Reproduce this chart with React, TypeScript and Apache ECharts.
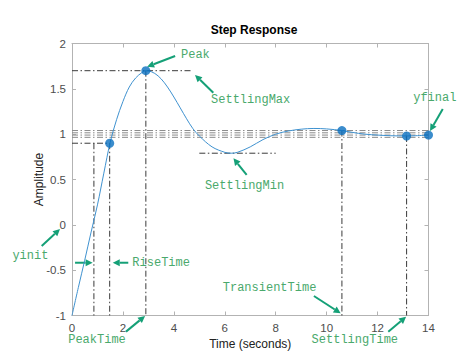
import React, { useEffect, useRef } from "react";
import * as echarts from "echarts";

const timeValues = [0, 0.25, 0.5, 0.75, 1.0, 1.25, 1.5, 1.75, 2.0, 2.25, 2.5, 2.75, 2.9, 3.0, 3.25, 3.5, 3.75, 4.0, 4.25, 4.5, 4.75, 5.0, 5.5, 6.0, 6.25, 6.5, 7.0, 7.5, 8.0, 8.5, 9.0, 9.5, 10.0, 10.6, 11.0, 11.5, 12.0, 12.5, 13.14, 13.5, 14.0];
const amplitudeValues = [-1, -0.69, -0.39, -0.08, 0.22, 0.57, 0.91, 1.16, 1.36, 1.52, 1.62, 1.68, 1.7, 1.698, 1.67, 1.61, 1.52, 1.41, 1.29, 1.17, 1.06, 0.98, 0.86, 0.8, 0.79, 0.8, 0.86, 0.94, 1.0, 1.035, 1.055, 1.063, 1.058, 1.04, 1.02, 1.0, 0.99, 0.983, 0.98, 0.983, 0.99];

const xTicks = { min: 0, max: 14, interval: 2 };
const yTicks = { min: -1, max: 2, interval: 0.5 };

const markerPoints = [
  [1.48, 0.9],
  [2.9, 1.7],
  [10.6, 1.04],
  [13.14, 0.98],
  [14, 0.99],
];

const referenceLines = [
  [[0, 0.9], [1.48, 0.9]],
  [[0.86, 0.9], [0.86, -1]],
  [[1.48, 0.9], [1.48, -1]],
  [[0, 1.7], [4.7, 1.7]],
  [[2.9, 1.7], [2.9, -1]],
  [[5.0, 0.79], [8.0, 0.79]],
  [[10.6, 1.04], [10.6, -1]],
  [[13.14, 0.98], [13.14, -1]],
];

const bandLevels = [1.04, 1.015, 0.99, 0.965];

const annotationLabels = ["Peak", "SettlingMax", "yfinal", "SettlingMin", "yinit", "RiseTime", "PeakTime", "TransientTime", "SettlingTime"];
const annotationLabelAt = [
  [4.28, 1.873],
  [5.46, 1.377],
  [13.4, 1.395],
  [5.22, 0.432],
  [-2.34, -0.34],
  [2.37, -0.418],
  [-0.15, -1.27],
  [5.92, -0.693],
  [9.41, -1.27],
];

const annotationArrows = [
  [[4.05, 1.862], [2.95, 1.744]],
  [[5.55, 1.457], [4.83, 1.653]],
  [[14.56, 1.278], [14.06, 1.035]],
  [[6.86, 0.55], [6.34, 0.734]],
  [[-1.19, -0.233], [-0.47, -0.046]],
  [[0.12, -0.418], [0.81, -0.418]],
  [[2.21, -0.418], [1.6, -0.418]],
  [[2.12, -1.178], [2.87, -1.005]],
  [[9.5, -0.785], [10.55, -0.976]],
  [[12.42, -1.18], [13.12, -1.013]],
];

const DASH_DOT = [6, 2.5, 1.5, 2.5];

export default function App() {
  const ref = useRef<HTMLDivElement>(null);

  useEffect(() => {
    if (!ref.current) return;
    const chart = echarts.init(ref.current, null, { renderer: "svg" });

    const axisColor = "#b3b3b3";
    const labelColor = "#4d4d4d";
    const baseX = {
      type: "value",
      min: xTicks.min,
      max: xTicks.max,
      interval: xTicks.interval,
      axisLine: { show: true, onZero: false, lineStyle: { color: axisColor, width: 1 } },
      axisTick: { show: true, inside: true, length: 4, lineStyle: { color: axisColor } },
      splitLine: { show: false },
    };
    const baseY = {
      type: "value",
      min: yTicks.min,
      max: yTicks.max,
      interval: yTicks.interval,
      axisLine: { show: true, onZero: false, lineStyle: { color: axisColor, width: 1 } },
      axisTick: { show: true, inside: true, length: 4, lineStyle: { color: axisColor } },
      splitLine: { show: false },
    };

    const series: any[] = [];
    bandLevels.forEach((lv) => {
      series.push({
        type: "line",
        data: [[xTicks.min, lv], [xTicks.max, lv]],
        symbol: "none",
        silent: true,
        lineStyle: { color: "#8a8a8a", width: 1, type: DASH_DOT },
      });
    });
    referenceLines.forEach((seg) => {
      series.push({
        type: "line",
        data: seg,
        symbol: "none",
        silent: true,
        lineStyle: { color: "#3a3a3a", width: 1, type: DASH_DOT },
      });
    });
    series.push({
      type: "line",
      data: timeValues.map((t, i) => [t, amplitudeValues[i]]),
      symbol: "none",
      smooth: 0.35,
      lineStyle: { color: "#3f92d0", width: 1 },
    });
    series.push({
      type: "scatter",
      data: markerPoints,
      symbolSize: 9,
      itemStyle: { color: "#0a6fbf" },
      clip: false,
      z: 5,
    });

    chart.setOption({
      animation: false,
      backgroundColor: "#ffffff",
      title: {
        text: "Step Response",
        left: 249,
        textAlign: "center",
        top: 19,
        textStyle: { fontFamily: "Liberation Sans", fontSize: 12, fontWeight: "bold", color: "#000" },
      },
      grid: { left: 72, right: 45.5, top: 43.5, bottom: 39.5, containLabel: false },
      xAxis: [
        {
          ...baseX,
          position: "bottom",
          name: "Time (seconds)",
          nameLocation: "middle",
          nameGap: 22,
          nameMoveOverlap: false,
          nameTextStyle: { fontFamily: "Liberation Sans", fontSize: 12, color: "#222" },
          axisLabel: { fontFamily: "Liberation Sans", fontSize: 11.5, color: labelColor, margin: 6 },
        },
        { ...baseX, position: "top", axisLabel: { show: false } },
      ],
      yAxis: [
        {
          ...baseY,
          position: "left",
          name: "Amplitude",
          nameLocation: "middle",
          nameGap: 27,
          nameMoveOverlap: false,
          nameTextStyle: { fontFamily: "Liberation Sans", fontSize: 12, color: "#222" },
          axisLabel: { fontFamily: "Liberation Sans", fontSize: 11.5, color: labelColor, margin: 6 },
        },
        { ...baseY, position: "right", axisLabel: { show: false } },
      ],
      series,
    });

    const toPx = (p: number[]) => chart.convertToPixel({ seriesIndex: series.length - 2 }, p) as number[];
    const arrowColor = "#15a077";
    const graphics: any[] = [];
    annotationArrows.forEach(([tail, head]) => {
      const a = toPx(tail);
      const b = toPx(head);
      const dx = b[0] - a[0];
      const dy = b[1] - a[1];
      const len = Math.hypot(dx, dy) || 1;
      const ux = dx / len;
      const uy = dy / len;
      const hl = 7;
      const hw = 3.5;
      const bx = b[0] - ux * hl;
      const by = b[1] - uy * hl;
      graphics.push({
        type: "line",
        shape: { x1: a[0], y1: a[1], x2: bx, y2: by },
        style: { stroke: arrowColor, lineWidth: 2 },
        silent: true,
      });
      graphics.push({
        type: "polygon",
        shape: {
          points: [
            [b[0], b[1]],
            [bx - uy * hw, by + ux * hw],
            [bx + uy * hw, by - ux * hw],
          ],
        },
        style: { fill: arrowColor },
        silent: true,
      });
    });
    annotationLabels.forEach((txt, i) => {
      const p = toPx(annotationLabelAt[i]);
      graphics.push({
        type: "text",
        x: p[0],
        y: p[1],
        style: {
          text: txt,
          fill: "#4aa96c",
          font: '12px "Liberation Mono"',
          align: "left",
          verticalAlign: "middle",
        },
        silent: true,
        z: 10,
      });
    });
    chart.setOption({ graphic: graphics });

    return () => chart.dispose();
  }, []);

  return (
    <div
      ref={ref}
      style={{ position: "fixed", left: 0, top: 0, width: 474, height: 355 }}
    />
  );
}
